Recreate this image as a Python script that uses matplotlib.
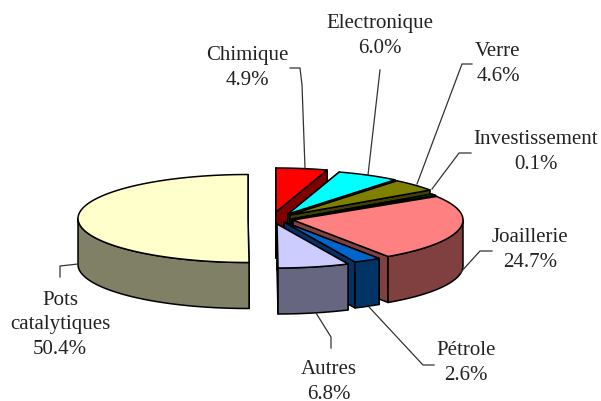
import numpy as np
import matplotlib
matplotlib.use('Agg')
import matplotlib.pyplot as plt
from matplotlib.patches import Polygon

W, H = 601, 401

######################
# clockwise from 12 o'clock; the Investissement sliver is drawn wider than its label says
names = ['Chimique', 'Electronique', 'Verre', 'Investissement', 'Joaillerie', 'Pétrole', 'Autres', 'Pots\ncatalytiques']
label_pct = ['4.9%', '6.0%', '4.6%', '0.1%', '24.7%', '2.6%', '6.8%', '50.4%']
sizes = [4.9, 6.0, 4.6, 0.6, 24.7, 2.6, 6.8, 50.4]
top_colors = ['#FF0000', '#00FFFF', '#808000', '#008000', '#FF8080', '#0066CC', '#CCCCFF', '#FFFFCC']
side_colors = ['#800000', '#008080', '#404000', '#004000', '#804040', '#003366', '#666680', '#808066']
##########################

# layout, in pixels of the reference
apex = [(276, 212), (288, 214), (290, 215), (292, 219), (293, 220), (284, 222), (277, 224), (248, 218.5)]
RX, RY, DEPTH = 170, 44, 46
label_pos = [(247, 68), (380, 36), (498, 64), (536, 152), (530, 250), (466, 363), (329, 382), (60, 325)]
leaders = [
    [(290, 68), (300, 68), (302, 85), (305, 168)],
    [(380, 70), (368, 175)],
    [(472, 64), (462, 64), (417, 184)],
    [(471, 153), (459, 153), (432, 189)],
    [(492, 251), (480, 251), (460, 273)],
    [(434, 365), (423, 365), (369, 307)],
    [(331, 348), (331, 337), (316, 313)],
    [(60, 277), (60, 266), (78, 264)],
]


def rim(c, t):
    return np.column_stack([c[0] + RX * np.sin(t), c[1] - RY * np.cos(t)])


def draw_slice(ax, c, t0, t1, top, side):
    arc = rim(c, np.linspace(t0, t1, 80))
    lw = dict(edgecolor='black', linewidth=1.1, joinstyle='round')
    down = np.array([0, DEPTH])
    # cut faces first, the outer wall and top paint over whatever is hidden
    for p in (arc[0], arc[-1]):
        ax.add_patch(Polygon([c, p, p + down, np.array(c) + down], facecolor=side, **lw))
    a, b = max(t0, np.pi / 2), min(t1, 3 * np.pi / 2)
    if b > a:
        front = rim(c, np.linspace(a, b, 80))
        ax.add_patch(Polygon(np.vstack([front, front[::-1] + down]), facecolor=side, **lw))
    ax.add_patch(Polygon(np.vstack([[c], arc]), facecolor=top, **lw))


def main():
    plt.rcParams['font.family'] = ['Liberation Serif', 'DejaVu Serif']
    fig = plt.figure(figsize=(W / 100, H / 100), dpi=100)
    ax = fig.add_axes([0, 0, 1, 1])
    ax.set_xlim(0, W)
    ax.set_ylim(H, 0)
    ax.axis('off')

    fr = np.array(sizes) / sum(sizes)
    edges = np.concatenate([[0], np.cumsum(fr)]) * 2 * np.pi
    for i in range(len(sizes)):
        draw_slice(ax, apex[i], edges[i], edges[i + 1], top_colors[i], side_colors[i])

    for pts in leaders:
        xs, ys = zip(*pts)
        ax.plot(xs, ys, color='#333333', lw=0.9)

    for i, n in enumerate(names):
        ax.text(label_pos[i][0], label_pos[i][1], n + '\n' + label_pct[i], ha='center', va='center',
                fontsize=15, color='#222222', linespacing=1.42, clip_on=True)

    fig.savefig('out.png', dpi=100)


if __name__ == "__main__":
    main()
